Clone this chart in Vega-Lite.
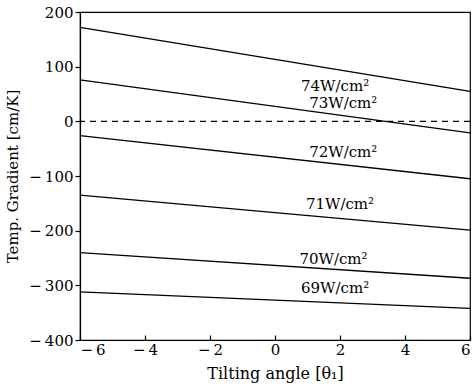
{
  "$schema": "https://vega.github.io/schema/vega-lite/v6.json",
  "width": 390,
  "height": 328,
  "autosize": "none",
  "padding": {"left": 80, "top": 12, "right": 2, "bottom": 47},
  "background": "white",
  "config": {
    "view": {"stroke": "black", "strokeWidth": 1.2},
    "font": "DejaVu Serif",
    "axis": {
      "domainColor": "black", "tickColor": "black", "labelColor": "black", "titleColor": "black",
      "labelFont": "DejaVu Serif", "titleFont": "DejaVu Serif",
      "labelFontSize": 15, "titleFontSize": 15, "titleFontWeight": "normal",
      "grid": false, "domainWidth": 1.2, "tickWidth": 1.2,
      "labelExpr": "datum.value < 0 ? '−\u2009' + abs(datum.value) : datum.label"
    }
  },
  "datasets": {
    "lines": [
      {"x": -6, "y": 172, "s": "74"}, {"x": 6, "y": 55, "s": "74"},
      {"x": -6, "y": 76, "s": "73"}, {"x": 6, "y": -21, "s": "73"},
      {"x": -6, "y": -26, "s": "72"}, {"x": 6, "y": -105, "s": "72"},
      {"x": -6, "y": -135, "s": "71"}, {"x": 6, "y": -199, "s": "71"},
      {"x": -6, "y": -240, "s": "70"}, {"x": 6, "y": -287, "s": "70"},
      {"x": -6, "y": -312, "s": "69"}, {"x": 6, "y": -342, "s": "69"}
    ],
    "labels": [
      {"x": 1.85, "y": 64, "t": "74W/cm²"},
      {"x": 2.1, "y": 34, "t": "73W/cm²"},
      {"x": 2.1, "y": -57, "t": "72W/cm²"},
      {"x": 2.0, "y": -152, "t": "71W/cm²"},
      {"x": 1.8, "y": -251, "t": "70W/cm²"},
      {"x": 1.85, "y": -305, "t": "69W/cm²"}
    ]
  },
  "layer": [
    {
      "data": {"name": "lines"},
      "mark": {"type": "line", "color": "black", "strokeWidth": 1.3},
      "encoding": {
        "x": {"field": "x", "type": "quantitative", "scale": {"domain": [-6, 6], "nice": false},
          "axis": {"title": "Tilting angle [θ₁]", "titleFontSize": 16, "values": [-6, -4, -2, 0, 2, 4, 6], "tickSize": -5, "labelPadding": 7, "titlePadding": 8}},
        "y": {"field": "y", "type": "quantitative", "scale": {"domain": [-400, 200], "nice": false},
          "axis": {"title": "Temp. Gradient [cm/K]", "values": [-400, -300, -200, -100, 0, 100, 200], "tickSize": 5, "labelPadding": 2, "titlePadding": 8}},
        "detail": {"field": "s"}
      }
    },
    {
      "data": {"values": [{"y": 0}]},
      "mark": {"type": "rule", "color": "black", "strokeDash": [6, 5], "strokeWidth": 1.2},
      "encoding": {"y": {"field": "y", "type": "quantitative"}}
    },
    {
      "data": {"name": "labels"},
      "mark": {"type": "text", "font": "DejaVu Serif", "fontSize": 15, "color": "black"},
      "encoding": {
        "x": {"field": "x", "type": "quantitative"},
        "y": {"field": "y", "type": "quantitative"},
        "text": {"field": "t"}
      }
    }
  ]
}
